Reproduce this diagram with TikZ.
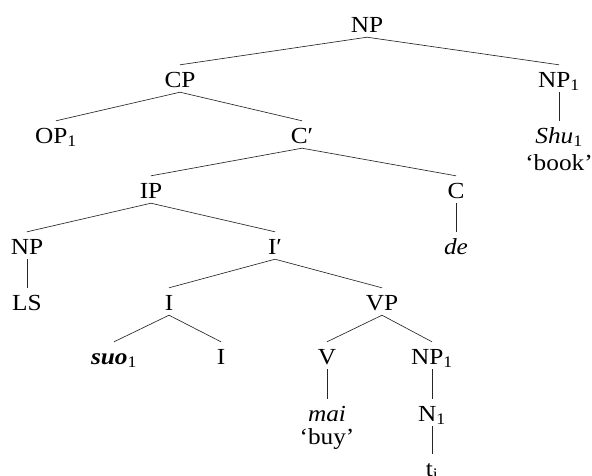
\documentclass[tikz,border=0pt]{standalone}
\usepackage{fontspec}
\setmainfont{Liberation Serif}[FakeStretch=1.1]
\begin{document}
\begin{tikzpicture}[x=1pt,y=-1pt,
  lab/.style={anchor=base,inner xsep=0pt,inner ysep=2pt,text height=20pt,text depth=3pt,
    font=\fontsize{23}{28}\selectfont},
  br/.style={draw=black!85,line width=0.65pt}]
\useasboundingbox (0,0) rectangle (592,475);
\node[lab] (np0) at (367,32) {NP};
\node[lab] (cp) at (180,87) {CP};
\node[lab] (np1r) at (559,87) {NP\textsubscript{1}};
\node[lab] (op) at (56,143) {OP\textsubscript{1}};
\node[lab] (cbar) at (302,143) {C′};
\node[lab] (shu) at (559,143) {\textit{Shu}\textsubscript{1}};
\node[lab] (book) at (559,170) {‘book’};
\node[lab] (ip) at (151,198) {IP};
\node[lab] (c) at (456,198) {C};
\node[lab] (np) at (27,254) {NP};
\node[lab] (ibar) at (275,254) {I′};
\node[lab] (de) at (456,254) {\textit{de}};
\node[lab] (ls) at (27,310) {LS};
\node[lab] (i1) at (169,310) {I};
\node[lab] (vp) at (382,310) {VP};
\node[lab] (suo) at (114,364) {\textbf{\textit{suo}}\textsubscript{1}};
\node[lab] (i2) at (221,364) {I};
\node[lab] (v) at (327,364) {V};
\node[lab] (np1b) at (432,364) {NP\textsubscript{1}};
\node[lab] (mai) at (327,421) {\textit{mai}};
\node[lab] (buy) at (327,444) {‘buy’};
\node[lab] (n1) at (432,421) {N\textsubscript{1}};
\node[lab] (ti) at (432,476) {t\textsubscript{i}};
\draw[br] (np0.south) -- (cp.north);
\draw[br] (np0.south) -- (np1r.north);
\draw[br] (np1r.south) -- (shu.north);
\draw[br] (cp.south) -- (op.north);
\draw[br] (cp.south) -- (cbar.north);
\draw[br] (cbar.south) -- (ip.north);
\draw[br] (cbar.south) -- (c.north);
\draw[br] (c.south) -- (de.north);
\draw[br] (ip.south) -- (np.north);
\draw[br] (ip.south) -- (ibar.north);
\draw[br] (np.south) -- (ls.north);
\draw[br] (ibar.south) -- (i1.north);
\draw[br] (ibar.south) -- (vp.north);
\draw[br] (i1.south) -- (suo.north);
\draw[br] (i1.south) -- (i2.north);
\draw[br] (vp.south) -- (v.north);
\draw[br] (vp.south) -- (np1b.north);
\draw[br] (v.south) -- (mai.north);
\draw[br] (np1b.south) -- (n1.north);
\draw[br] (n1.south) -- (ti.north);
\end{tikzpicture}
\end{document}
